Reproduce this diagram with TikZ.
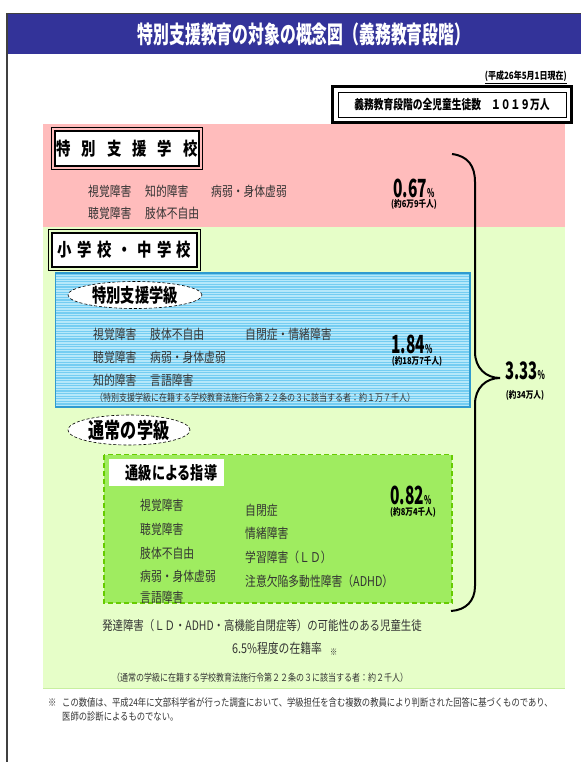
\documentclass[tikz,border=0pt]{standalone}
\usepackage{fontspec}
\usetikzlibrary{shapes.geometric,calc}
\newfontfamily\jp[FakeStretch=0.8]{Noto Sans CJK JP}
\newfontfamily\jpc[FakeStretch=0.66]{Noto Sans CJK JP}
\newfontfamily\jpm[FakeStretch=0.75]{Noto Sans CJK JP}
\newfontfamily\jpn[FakeStretch=0.8]{Noto Sans CJK JP}
\newfontfamily\jpx[FakeStretch=0.62]{Noto Sans CJK JP}
\definecolor{titleblue}{HTML}{333399}
\definecolor{pinkbg}{HTML}{FFBCBC}
\definecolor{greenbg}{HTML}{E6FEC8}
\definecolor{greenline}{HTML}{C8EFA0}
\definecolor{bluebg}{HTML}{B5E8FA}
\definecolor{bluestripe}{HTML}{74CDF2}
\definecolor{blueedge}{HTML}{2F9BD0}
\definecolor{greenbox}{HTML}{9FEC60}
\definecolor{greenedge}{HTML}{66CC00}
\definecolor{ink}{HTML}{333333}
\newcommand{\pctx}[2]{{\jpx\bfseries\fontsize{#2}{#2}\selectfont #1}{\jpx\bfseries\fontsize{12}{12}\selectfont\%}}
\tikzset{
  body/.style={anchor=west, inner sep=0pt, text=ink, font=\jp\fontsize{13.5}{15}\selectfont},
  smallnote/.style={anchor=west, inner sep=0pt, text=ink, font=\jpn\fontsize{10}{12}\selectfont},
  pct/.style={inner sep=0pt, text=black},
  cnt/.style={inner sep=0pt, text=black, font=\jpn\bfseries\fontsize{9.5}{11}\selectfont},
  headbox/.style={draw=black, line width=1.6pt, fill=white, inner sep=0pt, font=\jp\bfseries\fontsize{18}{20}\selectfont},
  classell/.style={ellipse, draw=black, densely dashed, line width=0.6pt, fill=white, inner sep=0pt},
  bracepath/.style={draw=black, line width=2pt},
}
\begin{document}
\begin{tikzpicture}[x=1pt,y=-1pt]
\useasboundingbox (0,0) rectangle (581,762);
\fill[white] (0,0) rectangle (581,762);
% title bar
\fill[titleblue] (7,13.5) rectangle (581,54.5);
\draw[black!75, line width=1.2pt] (7,762) -- (7,13.5) -- (581,13.5);
\node[font=\jpc\bfseries\fontsize{24}{26}\selectfont, text=white, inner sep=0pt] (title) at (304,34) {特別支援教育の対象の概念図（義務教育段階）};
\node[anchor=east, inner sep=0pt, font=\jpn\bfseries\fontsize{10}{12}\selectfont] (date) at (567,77) {\underline{(平成26年5月1日現在)}};
% total box
\node[draw=black, line width=0.8pt, fill=white, minimum width=228pt, minimum height=25pt, inner sep=0pt, font=\jpm\bfseries\fontsize{13}{14}\selectfont] (total) at (452,104.5) {義務教育段階の全児童生徒数\hspace{10pt}１０１９万人};
\draw[line width=2.5pt] ($(total.north west)+(-5,-5)$) rectangle ($(total.south east)+(5,5)$);
% regions
\fill[pinkbg] (43,124) rectangle (565,227);
\fill[greenbg] (43,227) rectangle (565,688);
\draw[greenline, line width=1pt] (43,688) -- (565,688);
% special school
\node[headbox, minimum width=144pt, minimum height=35pt] (sbs) at (127,148.5) {特\hspace{11pt}別\hspace{11pt}支\hspace{11pt}援\hspace{11pt}学\hspace{11pt}校};
\draw[line width=0.8pt] ($(sbs.north west)+(-3,-3)$) rectangle ($(sbs.south east)+(3,3)$);
\node[body] (p1) at (88,191) {視覚障害};
\node[body] (p2) at (145,191) {知的障害};
\node[body] (p3) at (211,191) {病弱・身体虚弱};
\node[body] (p4) at (88,213) {聴覚障害};
\node[body] (p5) at (145,213) {肢体不自由};
\node[pct] (pc1) at (414,188) {\pctx{0.67}{25}};
\node[cnt] (pn1) at (414,204) {(約6万9千人)};
% elementary / junior high
\node[headbox, minimum width=145pt, minimum height=34pt] (shochu) at (124.5,250) {小\hspace{5.5pt}学\hspace{5.5pt}校\hspace{5.5pt}・\hspace{5.5pt}中\hspace{5.5pt}学\hspace{5.5pt}校};
\draw[line width=0.8pt] ($(shochu.north west)+(-3,-3)$) rectangle ($(shochu.south east)+(3,3)$);
% special class box
\fill[bluebg] (55.5,273) rectangle (470,407);
\begin{scope}
\clip (55.5,273) rectangle (470,407);
\foreach \yy in {274,276.6,...,406} \draw[bluestripe, line width=1.1pt] (55.5,\yy) -- (470,\yy);
\end{scope}
\draw[blueedge, line width=1.5pt] (55.5,273) rectangle (470,407);
\node[classell, minimum width=134pt, minimum height=27pt, font=\jpm\bfseries\fontsize{19}{20}\selectfont] (tokkyu) at (135,295) {特別支援学級};
\node[body] (b1) at (93,334) {視覚障害};
\node[body] (b2) at (150,334) {肢体不自由};
\node[body] (b3) at (245,334) {自閉症・情緒障害};
\node[body] (b4) at (93,357) {聴覚障害};
\node[body] (b5) at (150,357) {病弱・身体虚弱};
\node[body] (b6) at (93,380) {知的障害};
\node[body] (b7) at (150,380) {言語障害};
\node[smallnote] (bnote) at (95,398) {（特別支援学級に在籍する学校教育法施行令第２２条の３に該当する者：約１万７千人）};
\node[pct] (pc2) at (412,344) {\pctx{1.84}{25}};
\node[cnt] (pn2) at (417,361) {(約18万7千人)};
% regular class
\node[classell, minimum width=122pt, minimum height=30pt, font=\jpm\bfseries\fontsize{21.5}{22}\selectfont] (tsujo) at (129,430) {通常の学級};
\draw[greenedge, fill=greenbox, line width=1.5pt, dash pattern=on 5pt off 3pt] (104,454.5) rectangle (452,603);
\node[fill=white, minimum width=115pt, minimum height=27pt, inner sep=0pt, font=\jpm\bfseries\fontsize{17.5}{19}\selectfont] (tsukyu) at (166.5,472.5) {\hspace*{10pt}通級による指導};
\node[body] (g1) at (140,505) {視覚障害};
\node[body] (g2) at (140,529) {聴覚障害};
\node[body] (g3) at (140,553) {肢体不自由};
\node[body] (g4) at (140,576) {病弱・身体虚弱};
\node[body] (g5) at (140,597) {言語障害};
\node[body] (g6) at (245,510) {自閉症};
\node[body] (g7) at (245,533) {情緒障害};
\node[body] (g8) at (245,557) {学習障害（ＬＤ）};
\node[body] (g9) at (245,581) {注意欠陥多動性障害（ADHD）};
\node[pct] (pc3) at (411,495) {\pctx{0.82}{25}};
\node[cnt] (pn3) at (413,512) {(約8万4千人)};
% total percentage
\node[pct] (pc4) at (525,371) {\pctx{3.33}{24}};
\node[cnt] (pn4) at (525,395) {(約34万人)};
% brace
\coordinate (btop) at (452,154);
\coordinate (btip) at (500,378);
\coordinate (bbot) at (451,611);
\draw[bracepath] (btop) .. controls (468,156) and (475,166) .. (475,182) -- (475,352) .. controls (475,368) and (486,378) .. (btip);
\draw[bracepath] (btip) .. controls (486,378) and (475,388) .. (475,404) -- (475,586) .. controls (475,601) and (466,610) .. (bbot);
% bottom texts
\node[inner sep=0pt, text=ink, font=\jp\fontsize{13}{15}\selectfont] (dev) at (262,626) {発達障害（ＬＤ・ADHD・高機能自閉症等）の可能性のある児童生徒};
\node[body] (rate) at (232,648) {6.5\%程度の在籍率};
\node[anchor=west, inner sep=0pt, text=ink, font=\jp\fontsize{9}{10}\selectfont] (rmark) at (330,652) {※};
\node[smallnote] (gnote) at (112,678) {（通常の学級に在籍する学校教育法施行令第２２条の３に該当する者：約２千人）};
% footnote
\node[anchor=west, inner sep=0pt, text=ink, font=\jpn\fontsize{10.4}{12}\selectfont] (fmark) at (48,703) {※};
\node[anchor=west, inner sep=0pt, text=ink, font=\jpn\fontsize{10.4}{12}\selectfont] (foot1) at (62,703) {この数値は、平成24年に文部科学省が行った調査において、学級担任を含む複数の教員により判断された回答に基づくものであり、};
\node[anchor=west, inner sep=0pt, text=ink, font=\jpn\fontsize{10.4}{12}\selectfont] (foot2) at (62,717) {医師の診断によるものでない。};
\end{tikzpicture}
\end{document}
